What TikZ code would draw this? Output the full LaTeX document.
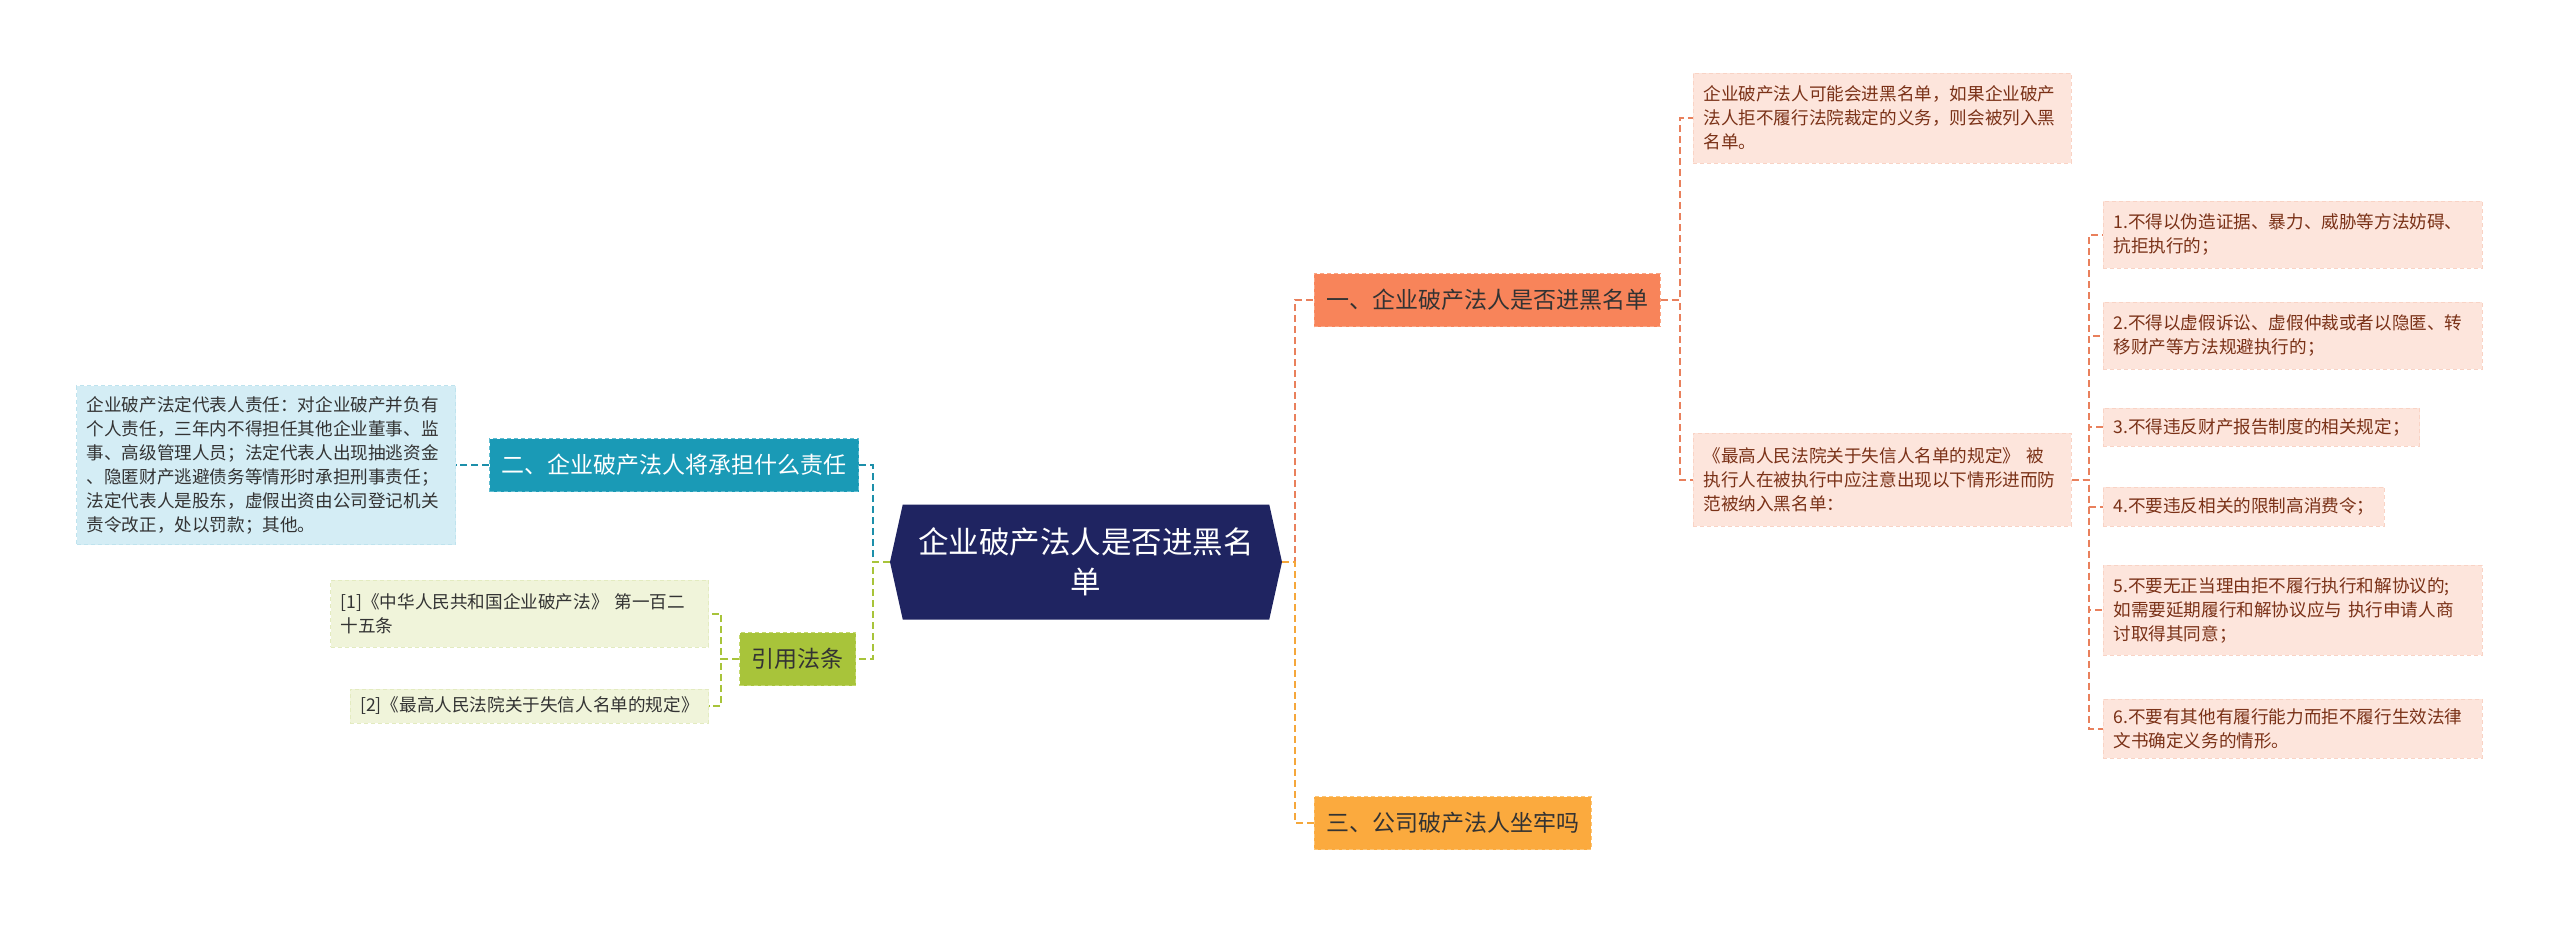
\documentclass[tikz,border=0pt]{standalone}
\usepackage{fontspec}
\setmainfont{Noto Sans CJK SC}
\usetikzlibrary{shapes.symbols}

\definecolor{rootblue}{HTML}{1F2461}
\definecolor{coralfill}{HTML}{F8845A}
\definecolor{coraledge}{HTML}{FBA584}
\definecolor{coralline}{HTML}{E9805C}
\definecolor{amberfill}{HTML}{FBAA3E}
\definecolor{amberedge}{HTML}{FCC576}
\definecolor{amberline}{HTML}{F5A73B}
\definecolor{tealfill}{HTML}{1A9AB6}
\definecolor{tealedge}{HTML}{5FBCD0}
\definecolor{tealline}{HTML}{1C8FAA}
\definecolor{citefill}{HTML}{A8C43A}
\definecolor{citeedge}{HTML}{C4D86F}
\definecolor{skyfill}{HTML}{D4EDF5}
\definecolor{skyedge}{HTML}{BFE3EE}
\definecolor{reffill}{HTML}{F0F4DA}
\definecolor{refedge}{HTML}{E3EBC0}
\definecolor{pinkfill}{HTML}{FDE5DC}
\definecolor{pinkedge}{HTML}{F9D3C5}
\definecolor{pinktext}{HTML}{7A3117}
\definecolor{darktext}{HTML}{333333}

\begin{document}
\begin{tikzpicture}[x=1pt, y=-1pt,
  boxline/.style={line width=0.8pt, dash pattern=on 4pt off 3pt},
  leaf/.style={boxline, inner xsep=10pt, inner ysep=0pt, align=left, font=\fontsize{17.6}{24}\selectfont},
  pinkleaf/.style={leaf, anchor=west, fill=pinkfill, draw=pinkedge, text=pinktext},
  refleaf/.style={leaf, anchor=east, fill=reffill, draw=refedge, text=darktext},
  branch/.style={boxline, inner xsep=12pt, inner ysep=0pt, minimum height=53pt, font=\fontsize{23}{28}\selectfont},
  link/.style={line width=2pt, dash pattern=on 7pt off 4pt}]

\useasboundingbox[fill=white] (0,0) rectangle (2560,927);

% root
\node[shape=signal, signal to=east and west, signal pointer angle=155, fill=rootblue,
  minimum width=392pt, minimum height=115pt, inner ysep=0pt, text=white, align=center,
  font=\fontsize{30.5}{40}\selectfont] (root) at (1086,562) {企业破产法人是否进黑名\\单};

% left side
\node[branch, anchor=east, fill=tealfill, draw=tealedge, text=white] (liability) at (859,465) {二、企业破产法人将承担什么责任};
\node[leaf, anchor=east, fill=skyfill, draw=skyedge, text=darktext, text width=359pt, minimum height=159pt] (duty) at (456,465)
  {企业破产法定代表人责任：对企业破产并负有\\个人责任，三年内不得担任其他企业董事、监\\事、高级管理人员；法定代表人出现抽逃资金\\、隐匿财产逃避债务等情形时承担刑事责任；\\法定代表人是股东，虚假出资由公司登记机关\\责令改正，处以罚款；其他。};
\node[branch, anchor=east, fill=citefill, draw=citeedge, text=darktext] (cite) at (856,659) {引用法条};
\node[refleaf, text width=358pt, minimum height=67pt] (ref1) at (709,613.5) {[1]《中华人民共和国企业破产法》 第一百二\\十五条};
\node[refleaf, minimum height=34pt] (ref2) at (709,706) {[2]《最高人民法院关于失信人名单的规定》};

% right side
\node[branch, anchor=west, fill=coralfill, draw=coraledge, text=darktext] (blacklist) at (1314,300) {一、企业破产法人是否进黑名单};
\node[branch, anchor=west, fill=amberfill, draw=amberedge, text=darktext] (jail) at (1314,823) {三、公司破产法人坐牢吗};
\node[pinkleaf, text width=358pt, minimum height=90pt] (note) at (1693,118)
  {企业破产法人可能会进黑名单，如果企业破产\\法人拒不履行法院裁定的义务，则会被列入黑\\名单。};
\node[pinkleaf, text width=358pt, minimum height=93pt] (rules) at (1693,479.5)
  {《最高人民法院关于失信人名单的规定》 被\\执行人在被执行中应注意出现以下情形进而防\\范被纳入黑名单：};

\node[pinkleaf, text width=359pt, minimum height=67pt] (rule1) at (2103,234.5) {1.不得以伪造证据、暴力、威胁等方法妨碍、\\抗拒执行的；};
\node[pinkleaf, text width=359pt, minimum height=67pt] (rule2) at (2103,335.5) {2.不得以虚假诉讼、虚假仲裁或者以隐匿、转\\移财产等方法规避执行的；};
\node[pinkleaf, minimum height=38pt] (rule3) at (2103,427) {3.不得违反财产报告制度的相关规定；};
\node[pinkleaf, minimum height=39pt] (rule4) at (2103,506.5) {4.不要违反相关的限制高消费令；};
\node[pinkleaf, text width=359pt, minimum height=90pt] (rule5) at (2103,610) {5.不要无正当理由拒不履行执行和解协议的;\\如需要延期履行和解协议应与 执行申请人商\\讨取得其同意；};
\node[pinkleaf, text width=359pt, minimum height=59pt] (rule6) at (2103,728.5) {6.不要有其他有履行能力而拒不履行生效法律\\文书确定义务的情形。};

% connectors
\draw[link, draw=coralline] (root.east) -- ++(13,0) |- (blacklist.west);
\draw[link, draw=amberline] (root.east) -- ++(13,0) |- (jail.west);
\draw[link, draw=tealline] (root.west) -- ++(-17,0) |- (liability.east);
\draw[link, draw=citefill] (root.west) -- ++(-17,0) |- (cite.east);
\draw[link, draw=tealline] (liability.west) -- (duty.east);
\draw[link, draw=citefill] (cite.west) -- ++(-18,0) |- (ref1.east);
\draw[link, draw=citefill] (cite.west) -- ++(-18,0) |- (ref2.east);
\draw[link, draw=coralline] (blacklist.east) -- ++(19,0) |- (note.west);
\draw[link, draw=coralline] (blacklist.east) -- ++(19,0) |- (rules.west);
\foreach \i in {1,...,6}
  \draw[link, draw=coralline] (rules.east) -- ++(17,0) |- (rule\i.west);
\end{tikzpicture}
\end{document}
